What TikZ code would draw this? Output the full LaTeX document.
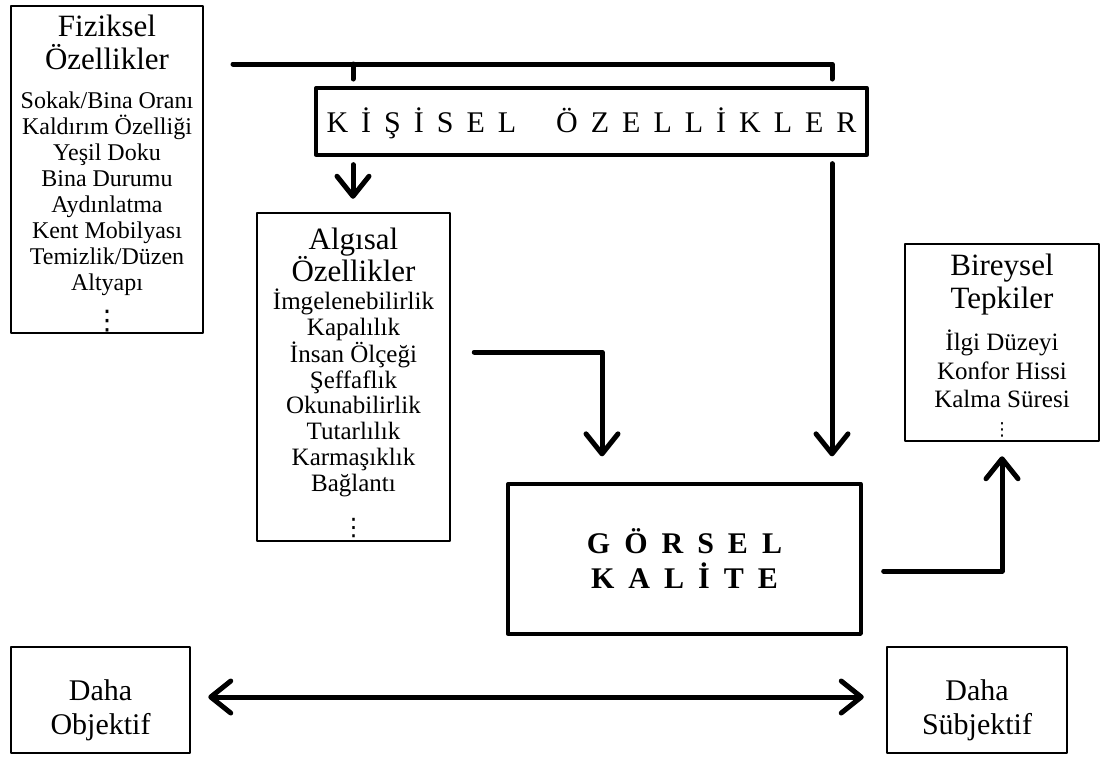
\documentclass[tikz,border=0pt]{standalone}
\usepackage{fontspec}
\setmainfont{Liberation Serif}
\newfontfamily\dejavu{DejaVu Sans}
\usetikzlibrary{arrows.meta,calc}
\newcommand\tfont{\fontsize{31}{33}\selectfont}
\newcommand\ifont{\fontsize{24}{26}\selectfont}
\newcommand\lsp{\hspace{13pt}}
\newcommand\gsp{\hspace{14pt}}
\newcommand\vdts[2]{{\dejavu\fontsize{#1}{#2}\selectfont ⋮\par}}
\tikzset{
  box/.style={draw, line width=2.5pt, inner sep=0pt, line join=round},
  thickbox/.style={draw, line width=3.3pt, inner sep=0pt, line join=round},
  conn/.style={line width=5pt, line cap=round, line join=round},
  arr/.style={conn, -{Straight Barb[length=20pt,width=32pt,round]}},
  arrs/.style={conn, {Straight Barb[length=20pt,width=32pt,round]}-{Straight Barb[length=20pt,width=32pt,round]}}
}
\begin{document}
\begin{tikzpicture}[x=1pt,y=-1pt]
\useasboundingbox (0,0) rectangle (1107,756);
\fill[white] (0,0) rectangle (1107,756);

% Fiziksel
\node[box, minimum width=192pt, minimum height=327pt] (fiz) at (107,169.5)
 {\parbox[c][327pt][t]{192pt}{\centering
  \tfont\rule{0pt}{30pt}Fiziksel\\Özellikler\par
  \vspace{13pt}
  \ifont Sokak/Bina Oranı\\Kaldırım Özelliği\\Yeşil Doku\\Bina Durumu\\Aydınlatma\\Kent Mobilyası\\Temizlik/Düzen\\Altyapı\par
  \vdts{27}{39}}};

% Kisisel
\node[thickbox, minimum width=551pt, minimum height=67pt, text height=21pt, text depth=0pt] (kis) at (591.5,121.5)
 {\fontsize{30}{32}\selectfont K\lsp İ\lsp Ş\lsp İ\lsp S\lsp E\lsp L\hspace{40pt}Ö\lsp Z\lsp E\lsp L\lsp L\lsp İ\lsp K\lsp L\lsp E\lsp R};

% Algisal
\node[box, minimum width=193pt, minimum height=328pt] (alg) at (353.5,377)
 {\parbox[c][328pt][t]{193pt}{\centering
  \fontsize{31}{29}\selectfont\rule{0pt}{36pt}Algısal\\Özellikler\par
  \vspace{2pt}
  \fontsize{25}{25.8}\selectfont İmgelenebilirlik\\Kapalılık\\İnsan Ölçeği\\Şeffaflık\\Okunabilirlik\\Tutarlılık\\Karmaşıklık\\Bağlantı\par
  \vdts{24}{44}}};

% Bireysel
\node[box, minimum width=194pt, minimum height=197pt] (bir) at (1002,342.5)
 {\parbox[c][197pt][t]{194pt}{\centering
  \tfont\rule{0pt}{31pt}Bireysel\\Tepkiler\par
  \vspace{14pt}
  \fontsize{25}{28.5}\selectfont İlgi Düzeyi\\Konfor Hissi\\Kalma Süresi\par
  \vdts{18}{28}}};

% Gorsel Kalite
\node[thickbox, minimum width=353pt, minimum height=150pt] (gor) at (684.5,559)
 {\parbox[c][150pt][t]{353pt}{\centering\bfseries\fontsize{30}{35}\selectfont
  \rule{0pt}{69pt}G\gsp Ö\gsp R\gsp S\gsp E\gsp L\\K\gsp A\gsp L\gsp İ\gsp T\gsp E\par}};

% Daha Objektif / Subjektif
\node[box, minimum width=179pt, minimum height=106pt] (obj) at (100.5,700)
 {\parbox[c][106pt][t]{179pt}{\centering\fontsize{30}{34}\selectfont\rule{0pt}{53pt}Daha\\Objektif\par}};
\node[box, minimum width=180pt, minimum height=106pt] (sub) at (977,700)
 {\parbox[c][106pt][t]{180pt}{\centering\fontsize{30}{34}\selectfont\rule{0pt}{53pt}Daha\\Sübjektif\par}};

% connectors
\coordinate (tl) at (233,64);
\coordinate (tk) at (353,64);
\coordinate (tr) at (832,64);
\coordinate (ag) at (602,352);
\coordinate (gb) at (1002,571);
\coordinate (mid) at (540,697);

\draw[conn] (tl) -- (tr) -- ++(0,15);
\draw[conn] (tk) -- ++(0,15);
\draw[arr, shorten <=8pt, shorten >=13pt] (kis.south -| tk) -- (alg.north -| tk);
\draw[arr, shorten <=7pt, shorten >=26pt] (kis.south -| tr) -- (gor.north -| tr);
\draw[arr, shorten <=23pt, shorten >=26pt] (alg.east |- ag) -| (gor.north -| ag);
\draw[arr, shorten <=21pt, shorten >=14pt] (gor.east |- gb) -| (bir.south -| gb);
\draw[arrs, shorten <=17pt, shorten >=22pt] (obj.east |- mid) -- (sub.west |- mid);
\end{tikzpicture}
\end{document}
